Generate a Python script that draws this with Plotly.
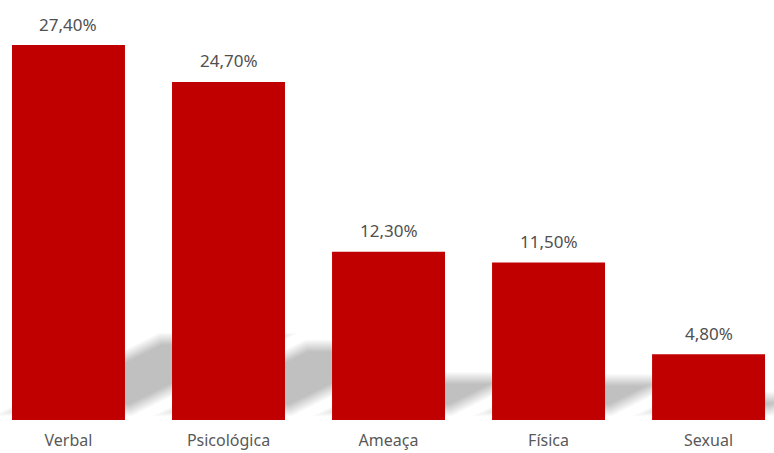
import math
import plotly.graph_objects as go

# Share of each type of violence (%)
categories = ["Verbal", "Psicológica", "Ameaça", "Física", "Sexual"]
values = [27.4, 24.7, 12.3, 11.5, 4.8]

BAR_COLOR = "#C00000"
FONT = "Noto Sans"

W, H = 774, 453
MARGIN_B = 33
PLOT_H = H - MARGIN_B

# axis ranges
X_RANGE = [-0.428, 4.409]
Y_RANGE = [0, 30.69]
BAR_W = 0.706

px_per_x = W / (X_RANGE[1] - X_RANGE[0])
px_per_y = PLOT_H / (Y_RANGE[1] - Y_RANGE[0])

fig = go.Figure(
    go.Bar(
        x=list(range(len(categories))),
        y=values,
        width=BAR_W,
        marker=dict(color=BAR_COLOR, line=dict(width=0)),
        hoverinfo="skip",
    )
)

# soft perspective shadow cast up and to the right behind each bar
SCALE = 0.19       # shadow height relative to bar height
OFF_X, OFF_Y = 6, 10   # px offset of shadow base
SLOPE = 0.5        # rise over run of the slanted side
BLUR = 6           # px half-width of the soft edge
sin_t = SLOPE / math.sqrt(1 + SLOPE ** 2)
layer_alpha = 1 - (1 - 0.215) ** (1 / (2 * BLUR + 1))

shapes = []
for i, v in enumerate(values):
    h_px = v * px_per_y
    sh = SCALE * h_px
    left = (i - BAR_W / 2 - X_RANGE[0]) * px_per_x + OFF_X
    right = (i + BAR_W / 2 - X_RANGE[0]) * px_per_x + OFF_X
    for d in range(-BLUR, BLUR + 1):
        u0 = OFF_Y + d
        u1 = OFF_Y + sh - d
        if u1 <= u0:
            continue
        shift = d / sin_t

        # corner points in px: x from left of figure, u upward from baseline
        def edge_x(base, u, s):
            return base + s + (u - OFF_Y) / SLOPE

        pts = [
            (edge_x(left, u0, shift), u0),
            (edge_x(right, u0, -shift), u0),
            (edge_x(right, u1, -shift), u1),
            (edge_x(left, u1, shift), u1),
        ]
        path = "M " + " L ".join(
            f"{X_RANGE[0] + x / px_per_x:.5f},{Y_RANGE[0] + u / px_per_y:.5f}"
            for x, u in pts
        ) + " Z"
        shapes.append(dict(
            type="path", path=path, xref="x", yref="y",
            fillcolor="black", opacity=layer_alpha,
            line=dict(width=0), layer="below",
        ))

annotations = [
    dict(
        x=i, y=v, xref="x", yref="y",
        text=f"{v:.2f}".replace(".", ",") + "%",
        showarrow=False, yanchor="middle", yshift=21,
        font=dict(family=FONT, size=17, color="#505050"),
    )
    for i, v in enumerate(values)
]

fig.update_layout(
    width=W, height=H,
    margin=dict(l=0, r=0, t=0, b=MARGIN_B, pad=0),
    paper_bgcolor="white", plot_bgcolor="white",
    showlegend=False,
    shapes=shapes,
    annotations=annotations,
    xaxis=dict(
        range=X_RANGE,
        tickmode="array",
        tickvals=list(range(len(categories))),
        ticktext=categories,
        showgrid=False, zeroline=False, showline=False, ticks="",
        tickfont=dict(family=FONT, size=16, color="#595959"),
        ticklabelstandoff=9,
        fixedrange=True,
    ),
    yaxis=dict(
        range=Y_RANGE,
        visible=False,
        fixedrange=True,
    ),
)

fig.write_html("out.html", config={"displayModeBar": False})
